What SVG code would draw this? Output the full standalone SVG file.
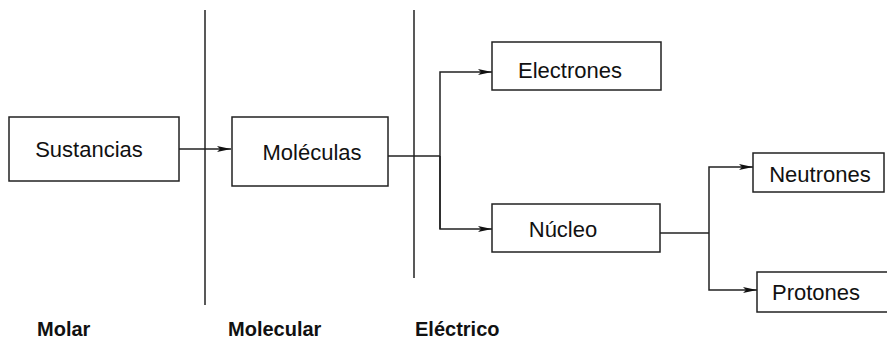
<svg xmlns="http://www.w3.org/2000/svg" width="887" height="340" viewBox="0 0 887 340">
<style>
.box{fill:#fff;stroke:#222;stroke-width:1.5}
.t{font-family:"Liberation Sans",Arial,sans-serif;font-size:22px;fill:#111;text-anchor:middle}
.lab{font-family:"Liberation Sans",Arial,sans-serif;font-size:20px;font-weight:bold;fill:#111}
.c{fill:none;stroke:#222;stroke-width:1.5}
</style>
<defs>
<marker id="ar" markerWidth="14" markerHeight="8" refX="14" refY="4" orient="auto" markerUnits="userSpaceOnUse">
<path d="M0,1 L14,4 L0,7 L3,4 Z" fill="#111"/>
</marker>
</defs>
<rect width="887" height="340" fill="#fff"/>
<g id="dividers">
<line class="c" x1="205" y1="10" x2="205" y2="305"/>
<line class="c" x1="414" y1="10" x2="414" y2="278"/>
</g>
<g id="connectors">
<line class="c" x1="179" y1="149" x2="231" y2="149" marker-end="url(#ar)"/>
<polyline class="c" points="388,156 440,156"/>
<polyline class="c" points="440,229 440,72 492,72" marker-end="url(#ar)"/>
<polyline class="c" points="440,156 440,229 492,229" marker-end="url(#ar)"/>
<polyline class="c" points="660,233 709,233"/>
<polyline class="c" points="709,233 709,167 753,167" marker-end="url(#ar)"/>
<polyline class="c" points="709,233 709,290 757,290" marker-end="url(#ar)"/>
</g>
<g id="sustancias"><rect class="box" x="9" y="117" width="170" height="64"/><text class="t" x="89" y="157">Sustancias</text></g>
<g id="moleculas"><rect class="box" x="232" y="117" width="156" height="69"/><text class="t" x="312" y="160">Moléculas</text></g>
<g id="electrones"><rect class="box" x="492" y="42" width="169" height="48"/><text class="t" x="570" y="78">Electrones</text></g>
<g id="nucleo"><rect class="box" x="492" y="204" width="168" height="48"/><text class="t" x="563" y="237">Núcleo</text></g>
<g id="neutrones"><rect class="box" x="753" y="153" width="131" height="39"/><text class="t" x="820" y="182">Neutrones</text></g>
<g id="protones"><rect class="box" x="757" y="272" width="135" height="40"/><text class="t" x="816" y="300">Protones</text></g>
<g id="labels">
<text class="lab" x="37" y="336">Molar</text>
<text class="lab" x="228" y="336">Molecular</text>
<text class="lab" x="415" y="336">Eléctrico</text>
</g>
</svg>
